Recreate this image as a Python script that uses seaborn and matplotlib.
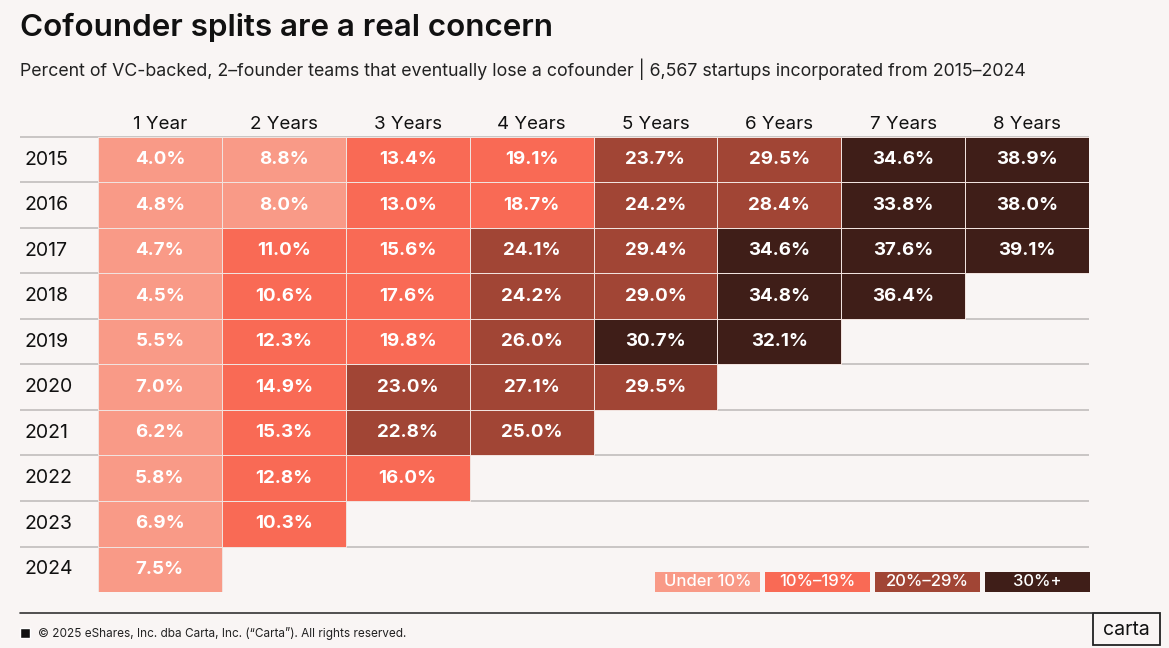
"""Cofounder split heatmap, Carta style."""

import matplotlib.pyplot as plt
import numpy as np
import pandas as pd
import seaborn as sns
from matplotlib.collections import QuadMesh
from matplotlib.colors import ListedColormap, to_rgba
from matplotlib.patches import Rectangle

YEARS = ["2015", "2016", "2017", "2018", "2019", "2020", "2021", "2022", "2023", "2024"]
HORIZONS = ["1 Year", "2 Years", "3 Years", "4 Years", "5 Years", "6 Years", "7 Years", "8 Years"]

Y2015 = [4.0, 8.8, 13.4, 19.1, 23.7, 29.5, 34.6, 38.9]
Y2016 = [4.8, 8.0, 13.0, 18.7, 24.2, 28.4, 33.8, 38.0]
Y2017 = [4.7, 11.0, 15.6, 24.1, 29.4, 34.6, 37.6, 39.1]
Y2018 = [4.5, 10.6, 17.6, 24.2, 29.0, 34.8, 36.4]
Y2019 = [5.5, 12.3, 19.8, 26.0, 30.7, 32.1]
Y2020 = [7.0, 14.9, 23.0, 27.1, 29.5]
Y2021 = [6.2, 15.3, 22.8, 25.0]
Y2022 = [5.8, 12.8, 16.0]
Y2023 = [6.9, 10.3]
Y2024 = [7.5]

BUCKET_LABELS = ["Under 10%", "10%\u201319%", "20%\u201329%", "30%+"]
BUCKET_EDGES = [0, 10, 20, 30, np.inf]
BUCKET_COLORS = ["#F99A87", "#F96A55", "#A14535", "#3F1E18"]

BG = "#F9F5F4"
CELL_EDGE = "#F1E2DE"
FONT = ["Inter", "DejaVu Sans"]

rows = [Y2015, Y2016, Y2017, Y2018, Y2019, Y2020, Y2021, Y2022, Y2023, Y2024]
values = pd.DataFrame(
    [r + [np.nan] * (len(HORIZONS) - len(r)) for r in rows],
    index=YEARS,
    columns=HORIZONS,
)
buckets = values.apply(
    lambda col: pd.cut(col, BUCKET_EDGES, right=False, labels=False)
)
annot = values.map(lambda v: "" if pd.isna(v) else f"{v:.1f}%")

sns.set_theme(style="white")
plt.rcParams["font.family"] = FONT

W, H = 1169, 648
fig = plt.figure(figsize=(W / 100, H / 100), dpi=100, facecolor=BG)
left, right, top, bottom = 98, 1089, 137, 592
ax = fig.add_axes([left / W, 1 - bottom / H, (right - left) / W, (bottom - top) / H])
ax.set_facecolor(BG)

# row separators run behind the cells and out under the year labels
ax.hlines(
    np.arange(0, len(YEARS)),
    xmin=(20 - left) / ((right - left) / len(HORIZONS)),
    xmax=len(HORIZONS),
    colors="#C9C5C4",
    linewidth=1.4,
    zorder=0,
    clip_on=False,
)

sns.heatmap(
    buckets,
    mask=values.isna(),
    cmap=ListedColormap(BUCKET_COLORS),
    vmin=-0.5,
    vmax=3.5,
    annot=annot,
    fmt="",
    annot_kws={"fontsize": 13.5, "fontweight": "bold", "color": "white"},
    linewidths=0.6,
    linecolor=CELL_EDGE,
    cbar=False,
    ax=ax,
)

# no cell borders where there is no data
mesh = next(c for c in ax.collections if isinstance(c, QuadMesh))
edge = np.array([to_rgba(CELL_EDGE)] * values.size)
edge[values.isna().to_numpy().ravel()] = (0, 0, 0, 0)
mesh.set_edgecolors(edge)

ax.xaxis.tick_top()
ax.set_xticklabels(HORIZONS, fontsize=13.5, color="#111111", rotation=0)
ax.set_yticklabels(YEARS, fontsize=14, color="#111111", rotation=0, ha="left")
ax.tick_params(axis="x", length=0, pad=3)
ax.tick_params(axis="y", length=0, pad=(left - 24) * 0.72)
ax.set_xlabel("")
ax.set_ylabel("")
for spine in ax.spines.values():
    spine.set_visible(False)

fig.text(20 / W, 1 - 27 / H, "Cofounder splits are a real concern",
         fontsize=22.6, fontweight="semibold", color="#111111", va="center")
fig.text(20 / W, 1 - 69 / H,
         "Percent of VC-backed, 2\u2013founder teams that eventually lose a cofounder | "
         "6,567 startups incorporated from 2015\u20132024",
         fontsize=12.8, color="#222222", va="center")

# legend chips
chip_x = [655, 765, 875, 985]
for x0, label, color in zip(chip_x, BUCKET_LABELS, BUCKET_COLORS):
    fig.patches.append(Rectangle((x0 / W, 1 - 592 / H), 105 / W, 20 / H,
                                 transform=fig.transFigure, facecolor=color,
                                 edgecolor="none"))
    fig.text((x0 + 52.5) / W, 1 - 582 / H, label, fontsize=12,
             fontweight="medium", color="white", ha="center", va="center")

# footer
fig.add_artist(plt.Line2D([20 / W, 1092 / W], [1 - 613 / H] * 2,
                          color="#333333", linewidth=1.2))
fig.patches.append(Rectangle((20 / W, 1 - 638 / H), 10 / W, 10 / H,
                             transform=fig.transFigure, facecolor="#111111"))
fig.text(38 / W, 1 - 633 / H,
         "\u00a9 2025 eShares, Inc. dba Carta, Inc. (\u201cCarta\u201d). All rights reserved.",
         fontsize=8.5, color="#222222", va="center")
fig.patches.append(Rectangle((1093 / W, 1 - 645 / H), 67 / W, 32 / H,
                             transform=fig.transFigure, facecolor=BG,
                             edgecolor="#222222", linewidth=1.3))
fig.text(1126.5 / W, 1 - 630 / H, "carta", fontsize=14, color="#111111",
         ha="center", va="center")

fig.savefig("out.png", dpi=100, facecolor=BG)
